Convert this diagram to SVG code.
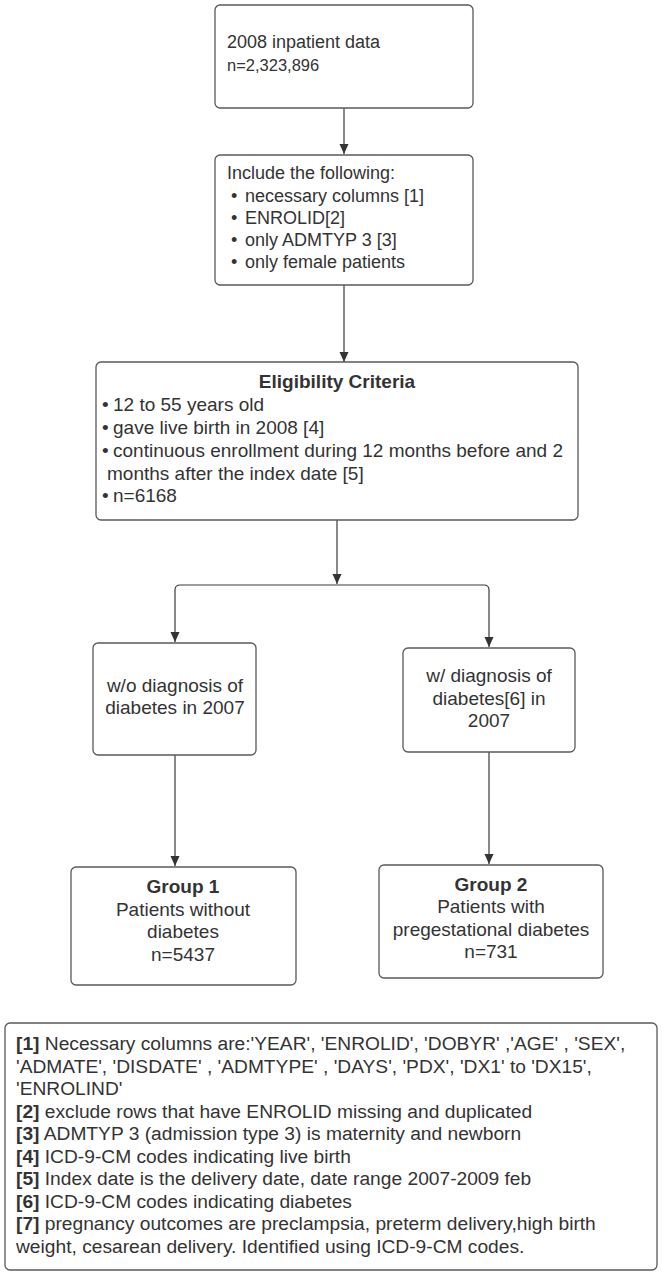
<svg xmlns="http://www.w3.org/2000/svg" width="662" height="1275" viewBox="0 0 662 1275">
<style>
.box{fill:#ffffff;stroke:#595959;stroke-width:1.3}
.t{font-family:"Liberation Sans",Arial,sans-serif;font-size:19px;fill:#333333}
.s18{font-size:18px}
.sm{font-size:16.5px}
.fn{font-size:19.2px}
.b{font-weight:bold}
.c{text-anchor:middle}
.con{fill:none;stroke:#3a3a3a;stroke-width:1.2}
</style>
<defs>
<marker id="arr" viewBox="0 0 10 13" refX="10" refY="6.5" markerWidth="10" markerHeight="13" markerUnits="userSpaceOnUse" orient="auto">
<path d="M0,2 L10,6.5 L0,11 z" fill="#333333"/>
</marker>
</defs>
<rect width="662" height="1275" fill="#ffffff"/>
<g id="connectors">
<path class="con" d="M344,108 V154" marker-end="url(#arr)"/>
<path class="con" d="M344,285 V362" marker-end="url(#arr)"/>
<path class="con" d="M337,520 V584" marker-end="url(#arr)"/>
<path class="con" d="M337,585 H180 Q175,585 175,590 V642" marker-end="url(#arr)"/>
<path class="con" d="M337,585 H484 Q489,585 489,590 V647" marker-end="url(#arr)"/>
<path class="con" d="M175,755 V866" marker-end="url(#arr)"/>
<path class="con" d="M489,752 V864" marker-end="url(#arr)"/>
</g>
<g id="n1">
<rect class="box" x="215" y="5" width="258" height="103" rx="5"/>
<text class="t s18" x="227" y="48">2008 inpatient data</text>
<text class="t sm" x="227" y="71">n=2,323,896</text>
</g>
<g id="n2">
<rect class="box" x="215" y="155" width="258" height="130" rx="5"/>
<text class="t s18" x="227" y="179">Include the following:</text>
<text class="t s18" x="231" y="202">•</text><text class="t s18" x="245" y="202">necessary columns [1]</text>
<text class="t s18" x="231" y="224">•</text><text class="t s18" x="245" y="224">ENROLID[2]</text>
<text class="t s18" x="231" y="246">•</text><text class="t s18" x="245" y="246">only ADMTYP 3 [3]</text>
<text class="t s18" x="231" y="268">•</text><text class="t s18" x="245" y="268">only female patients</text>
</g>
<g id="n3">
<rect class="box" x="96" y="362" width="482" height="158" rx="5"/>
<text class="t b c" x="337" y="388">Eligibility Criteria</text>
<text class="t" x="102" y="411">•</text><text class="t" x="113" y="411">12 to 55 years old</text>
<text class="t" x="102" y="434">•</text><text class="t" x="113" y="434">gave live birth in 2008 [4]</text>
<text class="t" x="102" y="457">•</text><text class="t" x="113" y="457">continuous enrollment during 12 months before and 2</text>
<text class="t" x="107" y="480">months after the index date [5]</text>
<text class="t" x="102" y="502">•</text><text class="t" x="113" y="502">n=6168</text>
</g>
<g id="n4">
<rect class="box" x="93" y="643" width="163" height="112" rx="5"/>
<text class="t c" x="175" y="692">w/o diagnosis of</text>
<text class="t c" x="175" y="714">diabetes in 2007</text>
</g>
<g id="n5">
<rect class="box" x="403" y="648" width="172" height="104" rx="5"/>
<text class="t c" x="489" y="682">w/ diagnosis of</text>
<text class="t c" x="489" y="705">diabetes[6] in</text>
<text class="t c" x="489" y="727">2007</text>
</g>
<g id="n6">
<rect class="box" x="71" y="867" width="225" height="118" rx="5"/>
<text class="t b c" x="183" y="893">Group 1</text>
<text class="t c" x="183" y="916">Patients without</text>
<text class="t c" x="183" y="938">diabetes</text>
<text class="t c" x="183" y="961">n=5437</text>
</g>
<g id="n7">
<rect class="box" x="379" y="865" width="224" height="113" rx="5"/>
<text class="t b c" x="491" y="891">Group 2</text>
<text class="t c" x="491" y="913">Patients with</text>
<text class="t c" x="491" y="936">pregestational diabetes</text>
<text class="t c" x="491" y="958">n=731</text>
</g>
<g id="notes">
<rect class="box" x="5" y="1023" width="652" height="247" rx="5"/>
<text class="t fn" x="16" y="1050"><tspan class="b">[1]</tspan> Necessary columns are:'YEAR', 'ENROLID', 'DOBYR' ,'AGE' , 'SEX',</text>
<text class="t fn" x="16" y="1072.5">'ADMATE', 'DISDATE' , 'ADMTYPE' , 'DAYS', 'PDX', 'DX1' to 'DX15',</text>
<text class="t fn" x="16" y="1095">'ENROLIND'</text>
<text class="t fn" x="16" y="1117.5"><tspan class="b">[2]</tspan> exclude rows that have ENROLID missing and duplicated</text>
<text class="t fn" x="16" y="1140"><tspan class="b">[3]</tspan> ADMTYP 3 (admission type 3) is maternity and newborn</text>
<text class="t fn" x="16" y="1162.5"><tspan class="b">[4]</tspan> ICD-9-CM codes indicating live birth</text>
<text class="t fn" x="16" y="1185"><tspan class="b">[5]</tspan> Index date is the delivery date, date range 2007-2009 feb</text>
<text class="t fn" x="16" y="1207.5"><tspan class="b">[6]</tspan> ICD-9-CM codes indicating diabetes</text>
<text class="t fn" x="16" y="1230"><tspan class="b">[7]</tspan> pregnancy outcomes are preclampsia, preterm delivery,high birth</text>
<text class="t fn" x="16" y="1252.5">weight, cesarean delivery. Identified using ICD-9-CM codes.</text>
</g>
</svg>
